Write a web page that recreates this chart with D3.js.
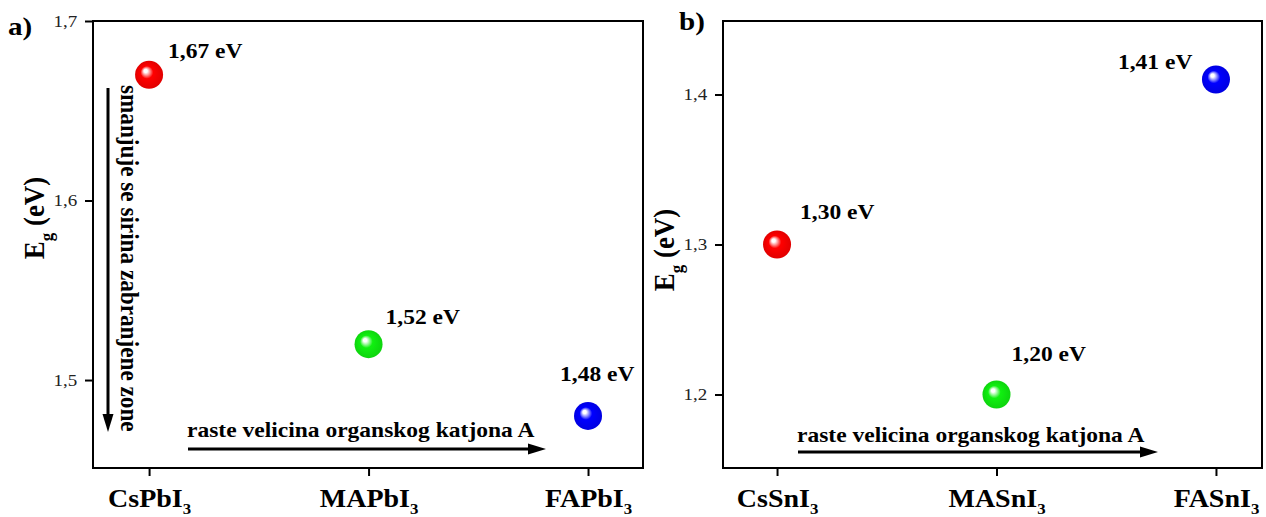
<!DOCTYPE html>
<html>
<head>
<meta charset="utf-8">
<script src="https://cdn.jsdelivr.net/npm/d3@7"></script>
<style>
  body { margin: 0; background: #fff; }
  svg { display: block; }
  svg text { font-family: 'Liberation Serif', 'Times New Roman', serif; }
</style>
</head>
<body>
<div id="chart"></div>
<script>
'use strict';

// Data
var namesA = ['CsPbI', 'MAPbI', 'FAPbI'];
var valuesA = [1.67, 1.52, 1.48];
var ticksA = [1.5, 1.6, 1.7];
var namesB = ['CsSnI', 'MASnI', 'FASnI'];
var valuesB = [1.30, 1.20, 1.41];
var ticksB = [1.2, 1.3, 1.4];
var colors = ['#ff0000', '#10f010', '#0000ff'];
var fmt = function(v, d) { return v.toFixed(d).replace('.', ','); };

var width = 1266, height = 517;
var sx = 1.12; // the original text is a bit wider than the font

var svg = d3.select('#chart').append('svg')
  .attr('width', width)
  .attr('height', height);

// Shiny ball gradients
var defs = svg.append('defs');
colors.forEach(function(c, i) {
  var g = defs.append('radialGradient')
    .attr('id', 'ball' + i)
    .attr('cx', '50%').attr('cy', '50%').attr('r', '50%')
    .attr('fx', '36%').attr('fy', '34%');
  g.append('stop').attr('offset', '0%').attr('stop-color', '#ffffff');
  g.append('stop').attr('offset', '12%').attr('stop-color', '#ffffff').attr('stop-opacity', 0.95);
  g.append('stop').attr('offset', '45%').attr('stop-color', c);
  g.append('stop').attr('offset', '100%').attr('stop-color', d3.color(c).darker(0.35));
});

// text placed at (x, y), stretched a little in x
function stretchedText(parent, x, y, rot) {
  return parent.append('text')
    .attr('transform', 'translate(' + x + ',' + y + ') scale(' + sx + ',1)' +
          (rot ? ' rotate(' + rot + ')' : ''))
    .attr('font-weight', 'bold');
}

function drawPanel(cfg) {
  var x = d3.scalePoint()
    .domain(cfg.names)
    .range([cfg.left, cfg.right])
    .padding(cfg.pad)
    .align(cfg.align);
  var y = d3.scaleLinear()
    .domain(cfg.yDomain)
    .range([cfg.bottom, cfg.top]);

  var g = svg.append('g');

  // Frame
  g.append('rect')
    .attr('x', cfg.left).attr('y', cfg.top)
    .attr('width', cfg.right - cfg.left)
    .attr('height', cfg.bottom - cfg.top)
    .attr('fill', 'none')
    .attr('stroke', '#000')
    .attr('stroke-width', 2);

  // Y axis
  var yAxis = d3.axisLeft(y)
    .tickValues(cfg.ticks)
    .tickSizeInner(8)
    .tickSizeOuter(0)
    .tickPadding(6)
    .tickFormat(function(d) { return fmt(d, 1); });
  var ya = g.append('g')
    .attr('transform', 'translate(' + cfg.left + ',0)')
    .call(yAxis);
  ya.select('.domain').remove();
  ya.selectAll('line').attr('stroke-width', 2);
  ya.selectAll('text')
    .attr('font-family', null)
    .attr('font-size', 17)
    .attr('fill', '#222')
    .attr('transform', 'scale(' + sx + ',1)');

  // X axis
  var xAxis = d3.axisBottom(x)
    .tickSizeInner(8)
    .tickSizeOuter(0)
    .tickFormat('');
  var xa = g.append('g')
    .attr('transform', 'translate(0,' + cfg.bottom + ')')
    .call(xAxis);
  xa.select('.domain').remove();
  xa.selectAll('line').attr('stroke-width', 2);
  xa.selectAll('.tick').append('text')
    .attr('y', 39)
    .attr('transform', 'scale(' + sx + ',1)')
    .attr('fill', '#000')
    .attr('text-anchor', 'middle')
    .attr('font-weight', 'bold')
    .attr('font-size', 25)
    .each(function(d) {
      var t = d3.select(this);
      t.append('tspan').text(d);
      t.append('tspan').attr('font-size', 15).attr('dy', 7).text('3');
    });

  // Y title
  var yt = stretchedText(g, cfg.titleX, cfg.titleY, -90)
    .attr('text-anchor', 'middle')
    .attr('font-size', 27);
  yt.append('tspan').text('E');
  yt.append('tspan').attr('font-size', 17).attr('dy', 8).text('g');
  yt.append('tspan').attr('dy', -8).text(' (eV)');

  // Panel label
  stretchedText(g, cfg.tagX, cfg.tagY)
    .attr('font-size', 26)
    .text(cfg.tag);

  // Points
  g.selectAll('circle.pt')
    .data(cfg.values)
    .enter().append('circle')
      .attr('class', 'pt')
      .attr('cx', function(d, i) { return x(cfg.names[i]); })
      .attr('cy', function(d) { return y(d); })
      .attr('r', 14)
      .attr('fill', function(d, i) { return 'url(#ball' + i + ')'; });

  // Value labels
  cfg.values.forEach(function(d, i) {
    stretchedText(g, x(cfg.names[i]) + cfg.offsets[i][0], y(d) + cfg.offsets[i][1])
      .attr('font-size', 21)
      .text(fmt(d, 2) + ' eV');
  });

  // Horizontal arrow
  var ha = cfg.hArrow;
  g.append('line')
    .attr('x1', ha[0]).attr('x2', ha[1] - 14)
    .attr('y1', ha[2]).attr('y2', ha[2])
    .attr('stroke', '#000').attr('stroke-width', 3);
  g.append('path')
    .attr('d', 'M' + ha[1] + ',' + ha[2] + 'l-18,-5.5v11z')
    .attr('fill', '#000');
  stretchedText(g, ha[0] - 1, ha[2] - ha[3])
    .attr('font-size', 21)
    .text('raste velicina organskog katjona A');

  return g;
}

var ga = drawPanel({
  names: namesA, values: valuesA, ticks: ticksA, yDomain: [1.451, 1.7],
  left: 93, right: 643, top: 21, bottom: 468, pad: 0.253, align: 0.505,
  titleX: 44, titleY: 218, tag: 'a)', tagX: 8, tagY: 35,
  offsets: [[19, -17], [17, -20], [-28, -35]],
  hArrow: [188, 546, 449, 12]
});

drawPanel({
  names: namesB, values: valuesB, ticks: ticksB, yDomain: [1.151, 1.449],
  left: 723, right: 1262, top: 21, bottom: 468, pad: 0.228, align: 0.54,
  titleX: 674, titleY: 250, tag: 'b)', tagX: 679, tagY: 30,
  offsets: [[23, -26], [15, -34], [-98, -11]],
  hArrow: [798, 1158, 452, 10]
});

// Vertical arrow in panel a
ga.append('line')
  .attr('x1', 108).attr('x2', 108)
  .attr('y1', 88).attr('y2', 416)
  .attr('stroke', '#000').attr('stroke-width', 3);
ga.append('path')
  .attr('d', 'M108,432l-5.5,-18h11z')
  .attr('fill', '#000');
stretchedText(ga, 121, 85, 90)
  .attr('font-size', 23.2)
  .text('smanjuje se sirina zabranjene zone');
</script>
</body>
</html>
